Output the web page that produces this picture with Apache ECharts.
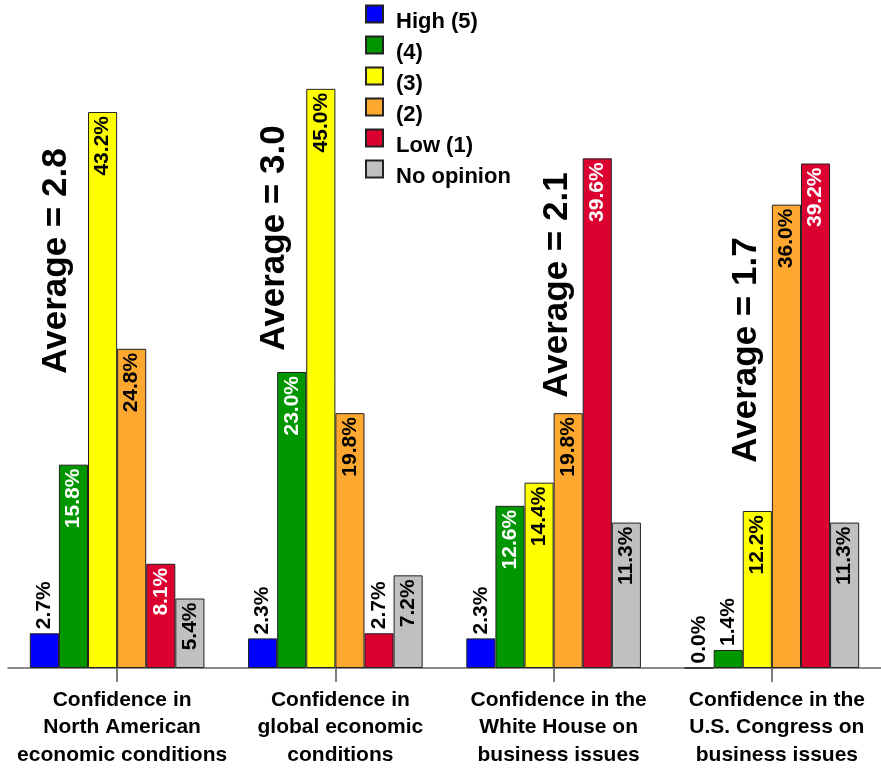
<!DOCTYPE html>
<html>
<head>
<meta charset="utf-8">
<script src="https://cdn.jsdelivr.net/npm/echarts@6/dist/echarts.min.js"></script>
<style>
  html, body { margin: 0; padding: 0; background: #fff; }
  #chart { width: 881px; height: 770px; }
</style>
</head>
<body>
<div id="chart"></div>
<script>
// Survey categories shown along the x axis
const categories = [
  'Confidence in\nNorth American\neconomic conditions',
  'Confidence in\nglobal economic\nconditions',
  'Confidence in the\nWhite House on\nbusiness issues',
  'Confidence in the\nU.S. Congress on\nbusiness issues'
];

// Rating levels (series names)
const ratingNames = ['High (5)', '(4)', '(3)', '(2)', 'Low (1)', 'No opinion'];

// Share of responses per rating, in percent, one value per category
const high5 = [2.7, 2.3, 2.3, 0.0];
const rating4 = [15.8, 23.0, 12.6, 1.4];
const rating3 = [43.2, 45.0, 14.4, 12.2];
const rating2 = [24.8, 19.8, 19.8, 36.0];
const low1 = [8.1, 2.7, 39.6, 39.2];
const noOpinion = [5.4, 7.2, 11.3, 11.3];

// Average rating per category
const averages = ['2.8', '3.0', '2.1', '1.7'];

const seriesValues = [high5, rating4, rating3, rating2, low1, noOpinion];
const colors = ['#0000FF', '#009600', '#FFFF00', '#FFA830', '#DC0030', '#C0C0C0'];
const insideTextColors = ['#fff', '#fff', '#000', '#000', '#fff', '#000'];

const FONT = '"Liberation Sans", Arial, Helvetica, sans-serif';

const chart = echarts.init(document.getElementById('chart'), null, { renderer: 'canvas' });

const series = ratingNames.map((name, s) => ({
  name,
  type: 'bar',
  barGap: '0%',
  barCategoryGap: '20%',
  itemStyle: { color: colors[s], borderColor: '#222', borderWidth: 1 },
  data: seriesValues[s].map(v => {
    const inside = v >= 5;
    return {
      value: v,
      label: inside
        ? { position: 'insideTop', align: 'right', color: insideTextColors[s], distance: 4 }
        : { position: 'top', align: 'left', color: '#000', distance: 4 }
    };
  }),
  label: {
    show: true,
    rotate: 90,
    verticalAlign: 'middle',
    fontFamily: FONT,
    fontWeight: 'bold',
    fontSize: 21,
    formatter: p => p.value.toFixed(1) + '%'
  }
}));

// Vertical "Average = x" captions beside each group
const avgPos = [[56, 261], [274, 238], [557, 285], [746, 350]];
const graphics = averages.map((a, i) => ({
  type: 'text',
  x: avgPos[i][0],
  y: avgPos[i][1],
  rotation: Math.PI / 2,
  style: {
    text: 'Average = ' + a,
    font: 'bold 35px ' + FONT,
    fill: '#000',
    textAlign: 'center',
    textVerticalAlign: 'middle'
  }
}));

chart.setOption({
  animation: false,
  backgroundColor: '#fff',
  legend: {
    orient: 'vertical',
    left: 365,
    top: -5,
    padding: 0,
    icon: 'rect',
    itemWidth: 17,
    itemHeight: 17,
    itemGap: -7,
    data: ratingNames,
    formatter: name => '{t|' + name + '}',
    textStyle: {
      fontFamily: FONT,
      fontWeight: 'bold',
      fontSize: 22,
      color: '#000',
      rich: {
        t: {
          fontFamily: FONT,
          fontWeight: 'bold',
          fontSize: 22,
          color: '#000',
          lineHeight: 14,
          padding: [16, 0, 0, 8]
        }
      }
    }
  },
  grid: { left: 8, width: 880, top: 24.5, bottom: 102, containLabel: false },
  xAxis: {
    type: 'category',
    data: categories,
    axisLine: { lineStyle: { color: '#666', width: 1.5 } },
    axisTick: { show: true, alignWithLabel: true, length: 14, lineStyle: { color: '#555', width: 1.5 } },
    axisLabel: {
      interval: 0,
      margin: 18,
      padding: [0, 0, 0, 10],
      fontFamily: FONT,
      fontWeight: 'bold',
      fontSize: 21,
      lineHeight: 27.5,
      color: '#000'
    }
  },
  yAxis: {
    type: 'value',
    min: 0,
    max: 50,
    show: false,
    splitLine: { show: false }
  },
  series,
  graphic: graphics
});
</script>
</body>
</html>
